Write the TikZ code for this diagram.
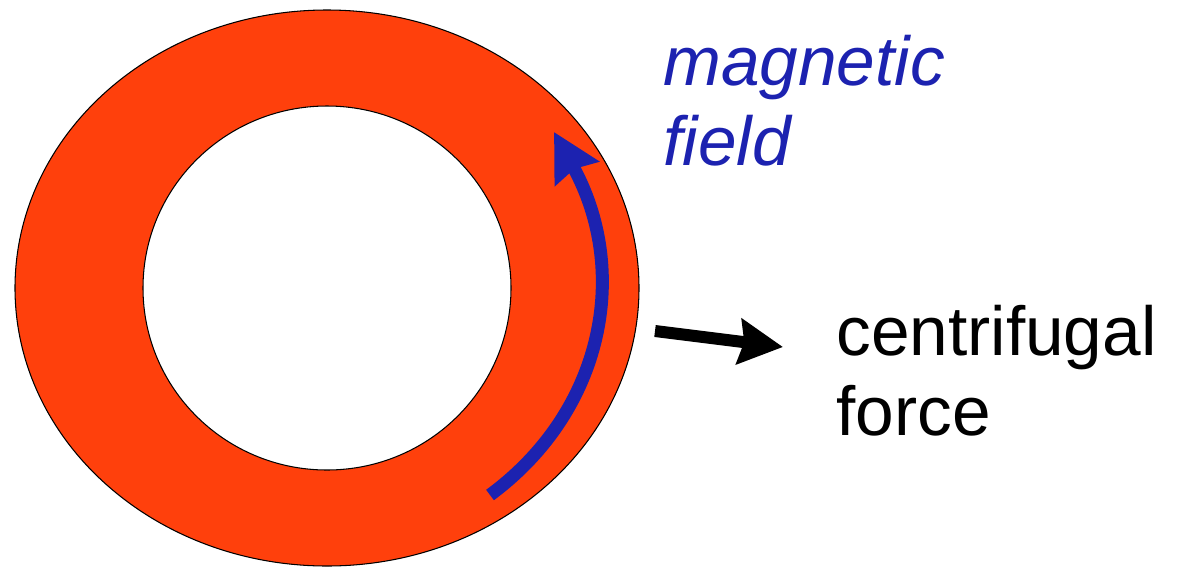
\documentclass[tikz,border=0pt]{standalone}
\usepackage{fontspec}
\setmainfont{Liberation Sans}
\usetikzlibrary{arrows.meta, positioning}

\definecolor{ringred}{RGB}{255,64,12}
\definecolor{fieldblue}{RGB}{28,34,176}

\begin{document}
\begin{tikzpicture}[x=0.02cm, y=-0.02cm,
    label text/.style={anchor=base west, align=left, inner sep=0pt, font=\fontsize{39.5}{45.5}\selectfont}]

\useasboundingbox (0, 0) rectangle (1177, 569);

% the ring
\coordinate (ringc) at (327, 288);
\draw [line width=0.6pt, fill=ringred] (ringc) ellipse [x radius=312, y radius=278];
\draw [line width=0.6pt, fill=white] (ringc) ellipse [x radius=184, y radius=182];

% field line
\coordinate (fieldstart) at (490, 495);
\coordinate (fieldend) at (554, 132);
\draw [fieldblue, line width=0.26cm, -{Stealth[length=0.94cm, width=0.98cm, inset=0.1cm]}]
    (fieldstart) .. controls (605, 410) and (630, 270) .. (fieldend);

% force
\coordinate (forcestart) at (655, 331);
\coordinate (forceend) at (783, 347);
\draw [line width=0.24cm, -{Stealth[length=0.88cm, width=0.9cm, inset=0.1cm]}] (forcestart) -- (forceend);

% base anchor sits on the last line
\node (field) [label text, text=fieldblue, font=\fontsize{39.5}{45.5}\selectfont\itshape] at (663, 165) {magnetic\\field};
\node (force) [label text] at (836, 435) {centrifugal\\force};

\end{tikzpicture}
\end{document}
